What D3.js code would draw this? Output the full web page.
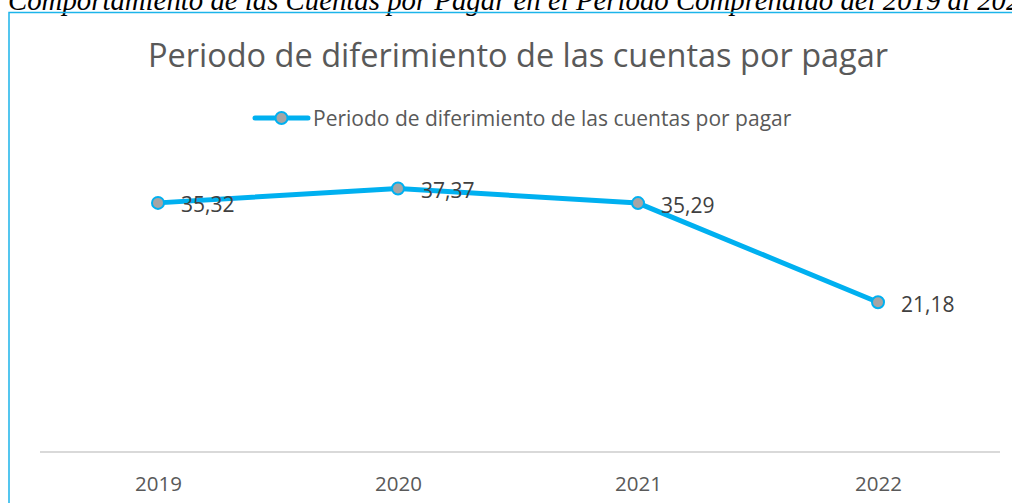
<!DOCTYPE html>
<html>
<head>
<meta charset="utf-8">
<script src="https://cdn.jsdelivr.net/npm/d3@7"></script>
<style>
  body { margin: 0; background: #fff; overflow: hidden; }
</style>
</head>
<body>
<div id="graph"></div>
<script>
// data
var years = ["2019", "2020", "2021", "2022"];
var values = [35.32, 37.37, 35.29, 21.18];
var labels = ["35,32", "37,37", "35,29", "21,18"];
var seriesName = "Periodo de diferimiento de las cuentas por pagar";
var chartTitle = "Periodo de diferimiento de las cuentas por pagar";
var caption = "Comportamiento de las Cuentas por Pagar en el Periodo Comprendido del 2019 al 2022";

var width = 1012;
var height = 503;
var font = "'Open Sans', 'Noto Sans', sans-serif";
var lineColor = "#00b0f0";

var svg = d3.select("#graph").append("svg")
    .attr("width", width)
    .attr("height", height);

// caption, clipped at the top of the page
svg.append("text")
    .attr("x", 8)
    .attr("y", 10)
    .style("font-family", "'Liberation Serif', serif")
    .style("font-style", "italic")
    .style("font-size", "28.8px")
    .style("fill", "#000")
    .text(caption);

// chart frame
svg.append("rect")
    .attr("x", 9)
    .attr("y", 12.5)
    .attr("width", 1020)
    .attr("height", 520)
    .style("fill", "none")
    .style("stroke", "#1cb4ea")
    .style("stroke-width", 1.5);

// title
svg.append("text")
    .attr("x", 518)
    .attr("y", 67)
    .attr("text-anchor", "middle")
    .style("font-family", font)
    .style("font-size", "32.5px")
    .style("fill", "#595959")
    .text(chartTitle);

// legend
var legend = svg.append("g").attr("transform", "translate(255,118)");
legend.append("line")
    .attr("x1", 0).attr("x2", 53)
    .style("stroke", lineColor)
    .style("stroke-width", 5)
    .style("stroke-linecap", "round");
legend.append("circle")
    .attr("cx", 26.5).attr("r", 6)
    .style("fill", "#a5a5a5")
    .style("stroke", lineColor)
    .style("stroke-width", 2);
legend.append("text")
    .attr("x", 58)
    .attr("y", 8)
    .style("font-family", font)
    .style("font-size", "21px")
    .style("fill", "#595959")
    .text(seriesName);

// scales
var xScale = d3.scalePoint().domain(years).range([38, 998]).padding(0.5);
var yScale = d3.scaleLinear().domain([0, 40]).range([451, 170]);

// x axis
var xAxis = d3.axisBottom(xScale).tickSize(0).tickPadding(24);
var axisG = svg.append("g")
    .attr("transform", "translate(0,452)")
    .call(xAxis);
axisG.select(".domain")
    .attr("d", "M40,0H1000")
    .style("stroke", "#d9d9d9")
    .style("stroke-width", 2);
axisG.selectAll("text")
    .style("font-family", font)
    .style("font-size", "20.5px")
    .style("fill", "#595959");

var points = years.map(function (d, i) { return { year: d, value: values[i], label: labels[i] }; });

// line
var line = d3.line()
    .x(function (d) { return xScale(d.year); })
    .y(function (d) { return yScale(d.value); });

svg.append("path")
    .datum(points)
    .attr("d", line)
    .style("fill", "none")
    .style("stroke", lineColor)
    .style("stroke-width", 5)
    .style("stroke-linecap", "round")
    .style("stroke-linejoin", "round");

svg.selectAll(".dot")
    .data(points)
    .enter().append("circle")
      .attr("class", "dot")
      .attr("r", 6)
      .attr("cx", function (d) { return xScale(d.year); })
      .attr("cy", function (d) { return yScale(d.value); })
      .style("fill", "#a5a5a5")
      .style("stroke", lineColor)
      .style("stroke-width", 2);

svg.selectAll(".lbl")
    .data(points)
    .enter().append("text")
      .attr("class", "lbl")
      .attr("x", function (d) { return xScale(d.year) + 23; })
      .attr("y", function (d) { return yScale(d.value) + 9.5; })
      .style("font-family", font)
      .style("font-size", "21px")
      .style("fill", "#404040")
      .text(function (d) { return d.label; });
</script>
</body>
</html>
